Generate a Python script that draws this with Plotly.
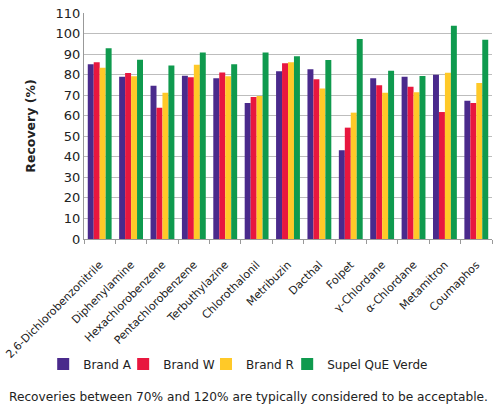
import plotly.graph_objects as go

compounds = ["2,6-Dichlorobenzonitrile", "Diphenylamine", "Hexachlorobenzene",
             "Pentachlorobenzene", "Terbuthylazine", "Chlorothalonil", "Metribuzin",
             "Dacthal", "Folpet", "γ-Chlordane", "α-Chlordane", "Metamitron", "Coumaphos"]

brand_a = [85.0, 79.0, 74.6, 79.5, 78.2, 66.2, 81.6, 82.6, 43.2, 78.3, 79.0, 80.0, 67.3]
brand_w = [86.0, 80.8, 63.9, 78.7, 81.1, 69.1, 85.6, 77.7, 54.2, 74.8, 74.1, 61.8, 66.2]
brand_r = [83.4, 79.2, 71.2, 84.8, 79.2, 69.6, 86.0, 73.3, 61.5, 71.2, 71.4, 80.9, 75.9]
supel = [92.8, 87.3, 84.5, 90.8, 85.0, 90.8, 88.9, 87.1, 97.3, 81.9, 79.3, 103.8, 97.0]

series = [
    ("Brand A", brand_a, "#4a2a8c"),
    ("Brand W", brand_w, "#e8173f"),
    ("Brand R", brand_r, "#ffc928"),
    ("Supel QuE Verde", supel, "#0f9a4e"),
]

# one legend per series so the entries can sit where the original has them
legend_x = [-0.10, 0.096, 0.299, 0.498]

fig = go.Figure()
legends = {}
for i, (name, vals, color) in enumerate(series):
    key = "legend" if i == 0 else f"legend{i + 1}"
    fig.add_trace(go.Bar(x=compounds, y=vals, name=name, marker_color=color,
                         marker_line_width=0, legend=key, showlegend=True))
    legends[key] = dict(orientation="h", x=legend_x[i], xanchor="left",
                        y=-0.553, yanchor="middle", font=dict(size=12),
                        itemwidth=30, bgcolor="rgba(0,0,0,0)")

fig.update_layout(
    width=500, height=406, showlegend=True,
    barmode="group", bargap=0.24, bargroupgap=0,
    plot_bgcolor="white", paper_bgcolor="white",
    font=dict(family="DejaVu Sans", color="#222222"),
    margin=dict(l=84, r=8, t=13, b=167, autoexpand=False),
    annotations=[dict(text="Recoveries between 70% and 120% are typically considered to be acceptable.",
                      xref="paper", yref="paper", x=0.402, xanchor="center",
                      y=-0.699, yanchor="middle", showarrow=False, font=dict(size=12.2))],
    **legends,
)
fig.update_yaxes(range=[0, 110], dtick=10, showgrid=True, gridcolor="#bdbdbd",
                 showline=True, linecolor="#999999", tickfont=dict(size=13),
                 title=dict(text="<b>Recovery (%)</b>", font=dict(size=12.5), standoff=17),
                 zeroline=False, automargin=False)
fig.update_xaxes(range=[-0.5, 12.5], showline=True, linecolor="#999999", ticks="outside",
                 tickson="boundaries", tickcolor="#999999", ticklen=4, tickangle=-45,
                 ticklabelstandoff=14, tickfont=dict(size=11), automargin=False)

# drop the default 8px body margin so the figure fills the window exactly
fig.write_html("out.html", config={"displayModeBar": False},
               post_script="document.body.style.margin = '0';")
